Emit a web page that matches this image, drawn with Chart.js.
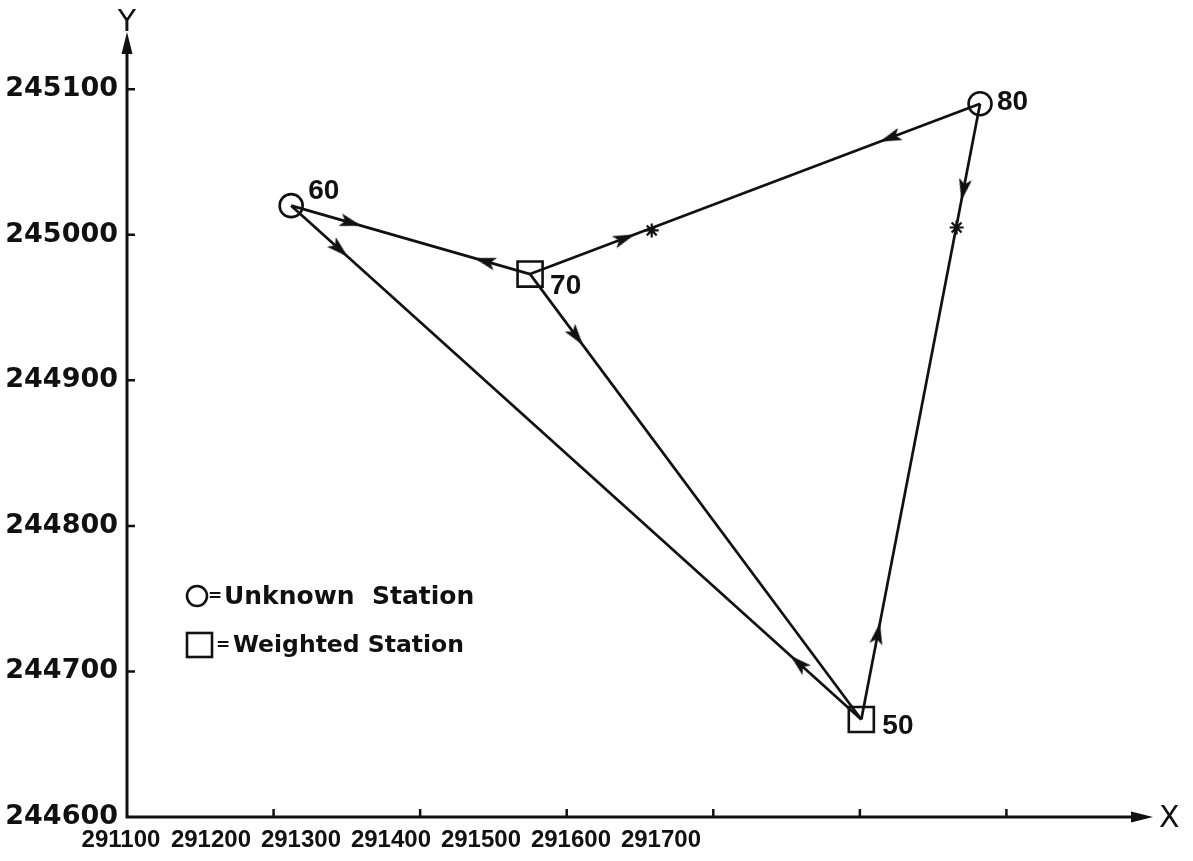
<!DOCTYPE html>
<html>
<head>
<meta charset="utf-8">
<script src="https://cdn.jsdelivr.net/npm/chart.js@4.4.1/dist/chart.umd.min.js"></script>
<style>
  html, body { margin: 0; padding: 0; background: #fff; }
  canvas { display: block; }
</style>
</head>
<body>
<canvas id="traverseChart" width="1193" height="861"></canvas>
<script>
// stations (X = easting, Y = northing)
const stationNames = ["50", "60", "70", "80"];
const stationX = [291601, 291212, 291375, 291682];
const stationY = [244667, 245020, 244973, 245090];
const stationType = ["weighted", "unknown", "weighted", "unknown"];

// observed lines
const lineFrom = ["60", "70", "80", "60", "70"];
const lineTo = ["70", "80", "50", "50", "50"];

// direction arrows: from station, toward station, how far along the line
const arrowFrom = ["60", "70", "70", "80", "80", "50", "60", "50", "70"];
const arrowTo = ["70", "60", "80", "70", "50", "80", "50", "60", "50"];
const arrowAt = [0.25, 0.19, 0.21, 0.2, 0.14, 0.14, 0.085, 0.11, 0.14];

// asterisk marks
const starX = [291458, 291666];
const starY = [245003, 245005];

// axes
const xTicks = [291100, 291200, 291300, 291400, 291500, 291600, 291700];
const yTicks = [244600, 244700, 244800, 244900, 245000, 245100];

const ink = "#111";
const byName = (n) => stationNames.indexOf(n);

// arrow head sprite, pointing up
function makeArrowHead() {
    const c = document.createElement("canvas");
    c.width = 14;
    c.height = 22;
    const g = c.getContext("2d");
    g.fillStyle = ink;
    g.beginPath();
    g.moveTo(7, 0);
    g.lineTo(13.5, 22);
    g.lineTo(7, 17);
    g.lineTo(0.5, 22);
    g.closePath();
    g.fill();
    return c;
}
const arrowHead = makeArrowHead();

const lineSets = lineFrom.map((f, i) => {
    const a = byName(f), b = byName(lineTo[i]);
    return {
        data: [
            { x: stationX[a], y: stationY[a] },
            { x: stationX[b], y: stationY[b] },
        ],
        showLine: true,
        borderColor: ink,
        borderWidth: 2.7,
        pointRadius: 0,
        order: 3,
    };
});

const arrowSet = {
    data: arrowFrom.map((f, i) => {
        const a = byName(f), b = byName(arrowTo[i]);
        const t = arrowAt[i];
        return {
            x: stationX[a] + t * (stationX[b] - stationX[a]),
            y: stationY[a] + t * (stationY[b] - stationY[a]),
        };
    }),
    pointStyle: arrowHead,
    rotation: function (c) {
        if (c.dataIndex === undefined) return 0;
        const s = c.chart.scales;
        const a = byName(arrowFrom[c.dataIndex]), b = byName(arrowTo[c.dataIndex]);
        const dx = s.x.getPixelForValue(stationX[b]) - s.x.getPixelForValue(stationX[a]);
        const dy = s.y.getPixelForValue(stationY[b]) - s.y.getPixelForValue(stationY[a]);
        return (Math.atan2(dx, -dy) * 180) / Math.PI;
    },
    pointRadius: 11,
    order: 2,
};

const starSet = {
    data: starX.map((x, i) => ({ x: x, y: starY[i] })),
    pointStyle: "star",
    pointRadius: 7,
    borderColor: ink,
    borderWidth: 2.2,
    order: 2,
};

function stationSet(type, style, radius) {
    const idx = stationNames.map((n, i) => i).filter((i) => stationType[i] === type);
    return {
        data: idx.map((i) => ({ x: stationX[i], y: stationY[i] })),
        pointStyle: style,
        pointRadius: radius,
        borderColor: ink,
        borderWidth: 2.6,
        backgroundColor: "rgba(0,0,0,0)",
        order: 1,
    };
}

// where the station numbers sit next to their marker (pixels)
const labelOffset = { "50": [21, 7], "60": [17, -14], "70": [20, 12], "80": [17, -1] };

const decorations = {
    id: "decorations",
    afterDatasetsDraw(chart) {
        const { ctx, chartArea: a, scales } = chart;
        ctx.save();
        ctx.strokeStyle = ink;
        ctx.fillStyle = ink;

        // axis lines
        ctx.lineWidth = 3;
        ctx.beginPath();
        ctx.moveTo(a.left, a.top + 10);
        ctx.lineTo(a.left, a.bottom);
        ctx.lineTo(a.right - 10, a.bottom);
        ctx.stroke();

        // arrow heads at the axis ends
        ctx.beginPath();
        ctx.moveTo(a.left, a.top + 1);
        ctx.lineTo(a.left + 5.5, a.top + 23);
        ctx.lineTo(a.left - 5.5, a.top + 23);
        ctx.closePath();
        ctx.fill();
        ctx.beginPath();
        ctx.moveTo(a.right, a.bottom);
        ctx.lineTo(a.right - 22, a.bottom - 5.5);
        ctx.lineTo(a.right - 22, a.bottom + 5.5);
        ctx.closePath();
        ctx.fill();

        // small tick marks inside the axes
        ctx.lineWidth = 2.5;
        ctx.beginPath();
        xTicks.slice(1).forEach((v) => {
            const p = scales.x.getPixelForValue(v);
            ctx.moveTo(p, a.bottom);
            ctx.lineTo(p, a.bottom - 8);
        });
        yTicks.slice(1).forEach((v) => {
            const p = scales.y.getPixelForValue(v);
            ctx.moveTo(a.left, p);
            ctx.lineTo(a.left + 8, p);
        });
        ctx.stroke();

        // axis names
        ctx.font = "30px 'DejaVu Sans'";
        ctx.textAlign = "center";
        ctx.textBaseline = "alphabetic";
        ctx.fillText("Y", a.left, a.top);
        ctx.textAlign = "left";
        ctx.textBaseline = "middle";
        ctx.fillText("X", a.right + 6, a.bottom + 2);

        // station numbers
        ctx.font = "bold 28px 'Liberation Sans'";
        stationNames.forEach((n, i) => {
            const off = labelOffset[n];
            ctx.fillText(
                n,
                scales.x.getPixelForValue(stationX[i]) + off[0],
                scales.y.getPixelForValue(stationY[i]) + off[1]
            );
        });

        // key
        const kx = a.left + 70, ky1 = a.bottom - 221, ky2 = a.bottom - 172;
        ctx.lineWidth = 2.6;
        ctx.beginPath();
        ctx.arc(kx, ky1, 10, 0, Math.PI * 2);
        ctx.stroke();
        ctx.strokeRect(kx - 10, ky2 - 12, 25, 24);
        ctx.font = "bold 17px 'DejaVu Sans'";
        ctx.fillText("=", kx + 11, ky1 + 1);
        ctx.fillText("=", kx + 19, ky2 + 1);
        ctx.font = "bold 25px 'DejaVu Sans'";
        ctx.fillText("Unknown  Station", kx + 27, ky1 + 1);
        ctx.font = "bold 23.5px 'DejaVu Sans'";
        ctx.fillText("Weighted Station", kx + 36, ky2 + 1);
        ctx.restore();
    },
};

new Chart(document.getElementById("traverseChart").getContext("2d"), {
    type: "scatter",
    data: {
        datasets: [
            ...lineSets,
            arrowSet,
            starSet,
            stationSet("unknown", "circle", 11.5),
            stationSet("weighted", "rect", 17.7),
        ],
    },
    options: {
        responsive: false,
        animation: false,
        events: [],
        layout: { padding: { left: 5, top: 31, right: 40, bottom: 4 } },
        scales: {
            x: {
                type: "linear",
                display: false,
                min: 291100,
                max: 291800,
            },
            // the printed labels are spaced tighter than the tick marks
            xLabels: {
                type: "linear",
                position: "bottom",
                min: 291106.7,
                max: 292246.7,
                afterBuildTicks: (s) => {
                    s.ticks = xTicks.map((v) => ({ value: v }));
                },
                afterFit: (s) => {
                    s.height = 40;
                },
                ticks: {
                    callback: (v) => String(v),
                    color: ink,
                    padding: 9,
                    maxRotation: 0,
                    autoSkip: false,
                    font: { family: "'Liberation Sans'", size: 24, weight: "bold" },
                },
                grid: { display: false, drawTicks: false },
                border: { display: false },
            },
            y: {
                type: "linear",
                min: 244600,
                max: 245140,
                afterBuildTicks: (s) => {
                    s.ticks = yTicks.map((v) => ({ value: v }));
                },
                afterFit: (s) => {
                    s.width = 122;
                },
                ticks: {
                    callback: (v) => String(v),
                    color: ink,
                    padding: 9,
                    font: { family: "'DejaVu Sans'", size: 27, weight: "bold" },
                },
                grid: { display: false, drawTicks: false },
                border: { display: false },
            },
        },
        plugins: {
            legend: { display: false },
            tooltip: { enabled: false },
        },
    },
    plugins: [decorations],
});
</script>
</body>
</html>
